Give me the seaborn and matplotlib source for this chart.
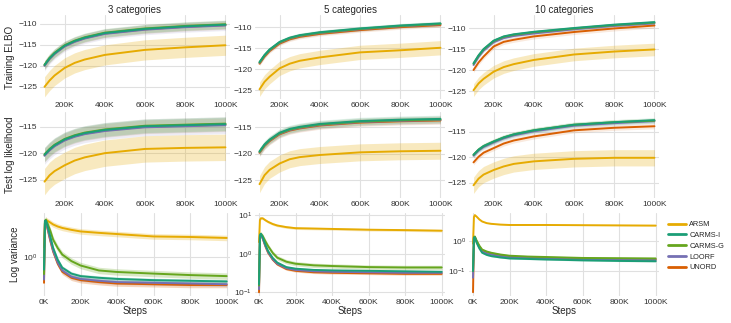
import numpy as np
import pandas as pd
import matplotlib
matplotlib.use("Agg")
import matplotlib.pyplot as plt
import seaborn as sns
from matplotlib.ticker import MultipleLocator, FuncFormatter, LogLocator, NullLocator
from matplotlib.lines import Line2D

# ---------------- data ----------------
METHODS = ["ARSM", "CARMS-I", "CARMS-G", "LOORF", "UNORD"]
COLORS = ["#e6ab02", "#1b9e77", "#66a61e", "#7570b3", "#d95f02"]
DRAW_ORDER = ["ARSM", "UNORD", "LOORF", "CARMS-G", "CARMS-I"]
COL_TITLES = ["3 categories", "5 categories", "10 categories"]
ROW_LABELS = ["Training ELBO", "Test log likelihood", "Log variance"]

# steps in thousands
STEPS_CURVE = [100, 125, 150, 200, 250, 300, 400, 600, 800, 1000]
STEPS_VAR = [0, 5, 10, 20, 35, 50, 75, 100, 150, 200, 300, 400, 600, 800, 1000]

# Training ELBO (mean)
ELBO_3 = {
    "ARSM":    [-125.0, -123.5, -122.3, -120.5, -119.3, -118.5, -117.4, -116.2, -115.6, -115.1],
    "CARMS-I": [-119.8, -118.2, -117.0, -115.2, -114.1, -113.3, -112.2, -111.2, -110.6, -110.2],
    "CARMS-G": [-119.7, -118.1, -116.9, -115.1, -114.0, -113.2, -112.1, -111.1, -110.5, -110.1],
    "LOORF":   [-120.0, -118.4, -117.2, -115.4, -114.3, -113.5, -112.4, -111.4, -110.8, -110.4],
    "UNORD":   [-119.9, -118.3, -117.1, -115.3, -114.2, -113.4, -112.3, -111.3, -110.7, -110.3],
}
ELBO_5 = {
    "ARSM":    [-124.8, -123.0, -121.8, -119.8, -118.7, -118.0, -117.2, -116.0, -115.5, -114.9],
    "CARMS-I": [-118.3, -116.6, -115.3, -113.5, -112.5, -111.9, -111.2, -110.3, -109.6, -109.1],
    "CARMS-G": [-118.4, -116.7, -115.4, -113.6, -112.6, -112.0, -111.3, -110.4, -109.7, -109.2],
    "LOORF":   [-118.5, -116.8, -115.5, -113.7, -112.7, -112.1, -111.4, -110.5, -109.8, -109.3],
    "UNORD":   [-118.7, -117.0, -115.7, -113.9, -112.9, -112.3, -111.6, -110.7, -110.0, -109.5],
}
ELBO_10 = {
    "ARSM":    [-124.8, -123.2, -122.1, -120.4, -119.3, -118.6, -117.6, -116.3, -115.6, -115.1],
    "CARMS-I": [-118.4, -116.5, -115.0, -113.0, -112.0, -111.5, -110.9, -110.0, -109.2, -108.6],
    "CARMS-G": [-118.5, -116.6, -115.1, -113.1, -112.1, -111.6, -111.0, -110.1, -109.3, -108.7],
    "LOORF":   [-118.8, -116.9, -115.4, -113.4, -112.4, -111.9, -111.3, -110.3, -109.5, -108.9],
    "UNORD":   [-120.0, -118.2, -116.8, -114.4, -113.3, -112.8, -112.0, -110.95, -110.1, -109.4],
}
# Test log likelihood (mean)
TEST_3 = {
    "ARSM":    [-125.4, -124.2, -123.4, -122.3, -121.4, -120.8, -120.0, -119.2, -119.0, -118.9],
    "CARMS-I": [-120.3, -119.3, -118.5, -117.4, -116.7, -116.2, -115.6, -114.9, -114.7, -114.5],
    "CARMS-G": [-120.2, -119.2, -118.4, -117.3, -116.6, -116.1, -115.5, -114.8, -114.6, -114.4],
    "LOORF":   [-120.5, -119.5, -118.7, -117.6, -116.9, -116.4, -115.8, -115.1, -114.9, -114.7],
    "UNORD":   [-120.4, -119.4, -118.6, -117.5, -116.8, -116.3, -115.7, -115.0, -114.8, -114.6],
}
TEST_5 = {
    "ARSM":    [-125.7, -124.0, -123.0, -121.8, -121.0, -120.6, -120.2, -119.7, -119.5, -119.4],
    "CARMS-I": [-119.5, -118.2, -117.3, -116.0, -115.3, -114.9, -114.35, -113.8, -113.55, -113.4],
    "CARMS-G": [-119.6, -118.3, -117.4, -116.1, -115.4, -115.0, -114.45, -113.9, -113.65, -113.5],
    "LOORF":   [-119.7, -118.4, -117.5, -116.2, -115.5, -115.1, -114.55, -114.0, -113.75, -113.6],
    "UNORD":   [-119.8, -118.5, -117.6, -116.3, -115.6, -115.2, -114.65, -114.1, -113.85, -113.7],
}
TEST_10 = {
    "ARSM":    [-125.5, -124.2, -123.4, -122.5, -121.8, -121.3, -120.8, -120.3, -120.1, -120.1],
    "CARMS-I": [-119.5, -118.5, -117.8, -116.9, -116.1, -115.5, -114.7, -113.6, -113.1, -112.7],
    "CARMS-G": [-119.5, -118.5, -117.8, -116.9, -116.1, -115.5, -114.7, -113.6, -113.1, -112.8],
    "LOORF":   [-119.7, -118.7, -118.0, -117.1, -116.3, -115.7, -114.9, -113.8, -113.3, -112.9],
    "UNORD":   [-121.0, -119.9, -119.1, -118.2, -117.3, -116.7, -115.9, -114.7, -114.2, -113.9],
}
# band half-widths (std) per method
ELBO_SD = [
    {"ARSM": 2.4, "CARMS-I": 1.0, "CARMS-G": 1.0, "LOORF": 1.2, "UNORD": 1.0},
    {"ARSM": 1.7, "CARMS-I": 0.5, "CARMS-G": 0.5, "LOORF": 0.5, "UNORD": 0.5},
    {"ARSM": 1.5, "CARMS-I": 0.4, "CARMS-G": 0.4, "LOORF": 0.4, "UNORD": 0.6},
]
TEST_SD = [
    {"ARSM": 2.5, "CARMS-I": 1.3, "CARMS-G": 1.3, "LOORF": 1.6, "UNORD": 1.3},
    {"ARSM": 1.6, "CARMS-I": 0.7, "CARMS-G": 0.7, "LOORF": 0.7, "UNORD": 0.7},
    {"ARSM": 1.6, "CARMS-I": 0.5, "CARMS-G": 0.5, "LOORF": 0.5, "UNORD": 0.5},
]
# Log variance (mean)
VAR_3 = {
    "ARSM":    [1.5, 4.2, 4.6, 4.4, 4.1, 3.8, 3.5, 3.3, 3.05, 2.86, 2.7, 2.57, 2.33, 2.28, 2.19],
    "CARMS-I": [0.6, 4.4, 4.5, 3.5, 2.3, 1.46, 0.9, 0.65, 0.51, 0.46, 0.43, 0.41, 0.39, 0.38, 0.37],
    "CARMS-G": [0.5, 4.4, 4.6, 3.9, 2.9, 2.04, 1.45, 1.11, 0.85, 0.71, 0.58, 0.545, 0.51, 0.48, 0.46],
    "LOORF":   [0.4, 4.0, 4.3, 3.2, 2.0, 1.3, 0.8, 0.58, 0.45, 0.41, 0.38, 0.36, 0.35, 0.34, 0.33],
    "UNORD":   [0.35, 4.0, 4.2, 3.1, 1.9, 1.25, 0.76, 0.55, 0.43, 0.39, 0.36, 0.34, 0.33, 0.32, 0.32],
}
VAR_5 = {
    "ARSM":    [2.0, 7.5, 8.3, 8.3, 7.4, 6.7, 5.9, 5.4, 4.9, 4.6, 4.5, 4.4, 4.2, 4.1, 3.96],
    "CARMS-I": [0.16, 3.0, 3.3, 2.7, 1.7, 1.17, 0.78, 0.59, 0.45, 0.41, 0.38, 0.37, 0.36, 0.35, 0.34],
    "CARMS-G": [0.15, 3.0, 3.3, 2.9, 2.1, 1.57, 1.05, 0.79, 0.62, 0.55, 0.5, 0.48, 0.45, 0.44, 0.44],
    "LOORF":   [0.12, 2.8, 3.1, 2.5, 1.6, 1.1, 0.72, 0.55, 0.42, 0.38, 0.35, 0.34, 0.33, 0.32, 0.32],
    "UNORD":   [0.1, 2.8, 3.1, 2.5, 1.55, 1.05, 0.7, 0.53, 0.4, 0.36, 0.33, 0.32, 0.31, 0.3, 0.3],
}
VAR_10 = {
    "ARSM":    [0.8, 6.0, 7.0, 6.2, 5.0, 4.3, 3.8, 3.6, 3.4, 3.3, 3.3, 3.3, 3.25, 3.2, 3.15],
    "CARMS-I": [0.1, 1.25, 1.3, 0.85, 0.55, 0.4, 0.34, 0.31, 0.28, 0.26, 0.25, 0.24, 0.225, 0.215, 0.21],
    "CARMS-G": [0.1, 1.3, 1.38, 1.0, 0.68, 0.51, 0.44, 0.4, 0.35, 0.32, 0.3, 0.29, 0.27, 0.265, 0.26],
    "LOORF":   [0.06, 1.25, 1.32, 0.92, 0.6, 0.45, 0.38, 0.35, 0.31, 0.29, 0.27, 0.26, 0.245, 0.235, 0.23],
    "UNORD":   [0.02, 1.25, 1.32, 0.93, 0.62, 0.46, 0.39, 0.36, 0.32, 0.3, 0.28, 0.265, 0.25, 0.245, 0.24],
}
# multiplicative band spread per method
VAR_SPREAD = [
    {"ARSM": 0.12, "CARMS-I": 0.08, "CARMS-G": 0.14, "LOORF": 0.1, "UNORD": 0.12},
    {"ARSM": 0.08, "CARMS-I": 0.06, "CARMS-G": 0.14, "LOORF": 0.06, "UNORD": 0.08},
    {"ARSM": 0.03, "CARMS-I": 0.05, "CARMS-G": 0.08, "LOORF": 0.05, "UNORD": 0.05},
]

ELBO = [ELBO_3, ELBO_5, ELBO_10]
TEST = [TEST_3, TEST_5, TEST_10]
VAR = [VAR_3, VAR_5, VAR_10]

# axis limits
ELBO_LIM = [(-127.9, -107.9), (-127.1, -107.1), (-126.9, -106.9)]
TEST_LIM = [(-128.5, -112.2), (-128.3, -112.1), (-128.0, -111.1)]
VAR_LIM = [(0.204, 6.08), (0.08, 11.4), (0.015, 8.2)]

# ---------------- style ----------------
sns.set_theme(style="whitegrid")
plt.rcParams["font.family"] = ["Liberation Sans", "DejaVu Sans"]
plt.rcParams["axes.unicode_minus"] = True
palette = dict(zip(METHODS, COLORS))

W, H = 731, 323
fig = plt.figure(figsize=(W / 100, H / 100), dpi=100)

col_left = [40, 255, 469]
col_w = 190
row_top = [15, 112, 213]
row_h = [84, 86, 83]

kfmt = FuncFormatter(lambda v, p: f"{int(round(v / 1000))}K")


def make_df(steps, series):
    rows = []
    for m in DRAW_ORDER:
        for s, v in zip(steps, series[m]):
            rows.append({"step": s * 1000, "value": v, "method": m})
    return pd.DataFrame(rows)


for r in range(3):
    for c in range(3):
        ax = fig.add_axes([col_left[c] / W, 1 - (row_top[r] + row_h[r]) / H,
                           col_w / W, row_h[r] / H])
        if r < 2:
            series = (ELBO if r == 0 else TEST)[c]
            sds = (ELBO_SD if r == 0 else TEST_SD)[c]
            steps = STEPS_CURVE
            x = np.array(steps) * 1000
            for m in DRAW_ORDER:
                v = np.array(series[m])
                ax.fill_between(x, v - sds[m], v + sds[m], color=palette[m],
                                alpha=0.25 if m == "ARSM" else 0.13, lw=0, zorder=1)
        else:
            series = VAR[c]
            spr = VAR_SPREAD[c]
            steps = STEPS_VAR
            x = np.array(steps) * 1000
            for m in DRAW_ORDER:
                v = np.array(series[m])
                ax.fill_between(x, v / (1 + spr[m]), v * (1 + spr[m]),
                                color=palette[m], alpha=0.25, lw=0, zorder=1)
        df = make_df(steps, series)
        sns.lineplot(data=df, x="step", y="value", hue="method",
                     hue_order=DRAW_ORDER, palette=palette, lw=1.4,
                     legend=False, ax=ax, zorder=2)
        ax.set_xlabel("Steps" if r == 2 else "", fontsize=7, labelpad=0.5)
        ax.set_ylabel(ROW_LABELS[r] if c == 0 else "", fontsize=7, labelpad=2)
        if r == 0:
            ax.set_title(COL_TITLES[c], fontsize=7, pad=1.5)
        if r < 2:
            ax.set_xlim(77500, 1022500)
            ax.set_xticks([200000, 400000, 600000, 800000, 1000000])
            ax.set_ylim(*(ELBO_LIM if r == 0 else TEST_LIM)[c])
            ax.yaxis.set_major_locator(MultipleLocator(5))
        else:
            ax.set_xlim(-22000, 1018000)
            ax.set_xticks([0, 200000, 400000, 600000, 800000, 1000000])
            ax.set_yscale("log")
            ax.set_ylim(*VAR_LIM[c])
            ax.yaxis.set_major_locator(LogLocator(base=10))
            ax.yaxis.set_minor_locator(NullLocator())
        ax.xaxis.set_major_formatter(kfmt)
        ax.tick_params(axis="both", which="both", length=0, labelsize=6,
                       pad=2.0, colors="#333333")
        ax.grid(True, color="#e0e0e0", lw=0.8)
        for sp in ax.spines.values():
            sp.set_visible(False)

handles = [Line2D([0], [0], color=palette[m], lw=2) for m in METHODS]
fig.legend(handles, METHODS, loc="upper left", bbox_to_anchor=(668 / W, 1 - 221 / H),
           frameon=False, fontsize=5.3, handlelength=2.4, handletextpad=0.5,
           labelspacing=0.5, borderaxespad=0, borderpad=0)

fig.savefig("out.png", dpi=100)
